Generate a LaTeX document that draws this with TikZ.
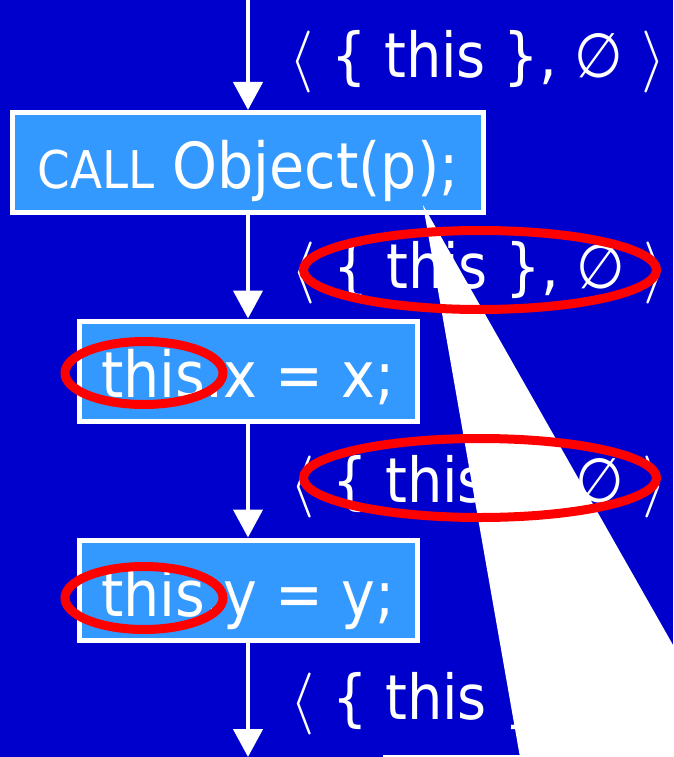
\documentclass[tikz,border=0pt]{standalone}
\usepackage{fontspec}
\setmainfont{DejaVu Sans}[FakeStretch=0.9]
\usetikzlibrary{arrows.meta}
% let the math symbol font scale freely so tuple brackets grow with the text
\DeclareFontShape{OMS}{cmsy}{m}{n}{<->cmsy10}{}
\definecolor{slidebg}{HTML}{0000CC}
\definecolor{boxfill}{HTML}{3399FF}
\definecolor{ringred}{HTML}{FF0000}
\newcommand{\bigfont}{\fontsize{62pt}{70pt}\selectfont}
\newcommand{\stmtfont}{\fontsize{63.5pt}{70pt}\selectfont}
\newcommand{\capsfont}{\fontsize{52pt}{60pt}\selectfont}
\newcommand{\opentuple}{\ensuremath{\langle}}
\newcommand{\closetuple}{\ensuremath{\rangle}}
\newcommand{\factset}{\opentuple{} \{ this \}, ∅ \closetuple}
\begin{document}
\begin{tikzpicture}[x=1pt,y=-1pt,
  stmt/.style={draw=white, line width=5pt, fill=boxfill, text=white,
    inner sep=0pt, minimum height=100pt, text height=58pt, text depth=6pt,
    font=\stmtfont},
  flow/.style={draw=white, line width=4.5pt, -{Triangle[width=29pt,length=28pt]}},
  lab/.style={text=white, inner sep=0pt, anchor=base west, font=\bigfont},
  ring/.style={draw=ringred, line width=9pt},
]
\useasboundingbox (0,0) rectangle (673,757);
\fill[slidebg] (0,0) rectangle (673,757);

% statement boxes
\node[stmt, minimum width=471pt] (call) at (248,162.5) {{\capsfont CALL} Object(p);};
\node[stmt, minimum width=338pt] (setx) at (248,371) {this.x = x;};
\node[stmt, minimum width=338pt] (sety) at (248,590) {this.y = y;};

% control flow
\coordinate (entry) at (248,0);
\coordinate (exit) at (248,757);
\draw[flow] (entry) -- (call.north);
\draw[flow] (call.south) -- (setx.north);
\draw[flow] (setx.south) -- (sety.north);
\draw[flow] (sety.south) -- (exit);

% dataflow facts on the edges
\node[lab] (f1) at (289,78) {\factset};
\node[lab] (f2) at (291,288) {\factset};
\node[lab] (f3) at (290,502) {\factset};
\node[lab] (f4) at (290,719) {\opentuple{} \{ this \}};

% callout wedge
\fill[white] (423,205) -- (673,645) -- (673,757) -- (383,757) -- (383,755)
  -- (519.6,755) -- cycle;

% highlight rings
\draw[ring] (480,270) ellipse [x radius=176.5pt, y radius=39.5pt];
\draw[ring] (480,478) ellipse [x radius=176.5pt, y radius=39.5pt];
\draw[ring] (144,373) ellipse [x radius=79pt, y radius=31.5pt];
\draw[ring] (144,598) ellipse [x radius=79pt, y radius=31.5pt];
\end{tikzpicture}
\end{document}
